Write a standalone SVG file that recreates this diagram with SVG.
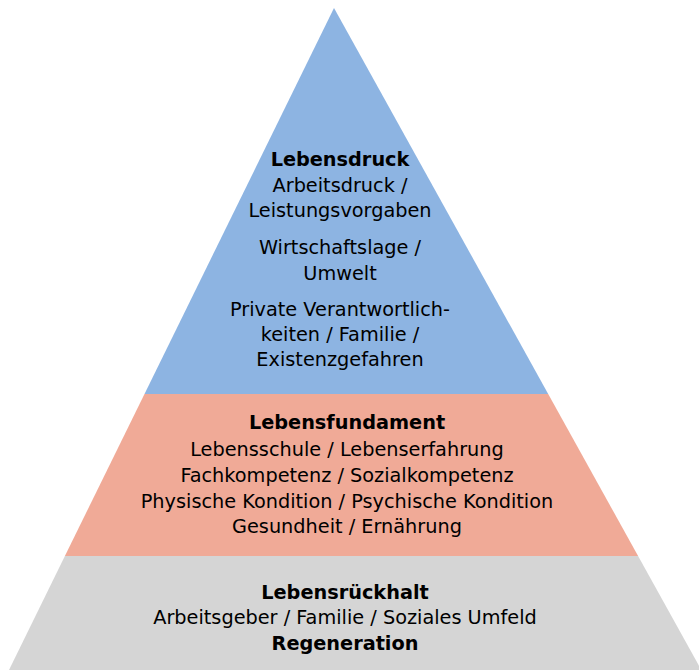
<svg xmlns="http://www.w3.org/2000/svg" width="699" height="670" viewBox="0 0 699 670">
  <style>
    text { font-family: "DejaVu Sans", Verdana, sans-serif; font-size: 19.3px; fill: #000; text-anchor: middle; }
    .b { font-weight: bold; }
  </style>
  <rect width="699" height="670" fill="#ffffff"/>
  <g id="lebensdruck">
    <polygon points="334,8 548.2,394 144.5,394" fill="#8DB4E2"/>
    <text class="b" x="340" y="166">Lebensdruck</text>
    <text x="340" y="192">Arbeitsdruck /</text>
    <text x="340" y="217">Leistungsvorgaben</text>
    <text x="340" y="254">Wirtschaftslage /</text>
    <text x="340" y="280">Umwelt</text>
    <text x="340" y="316">Private Verantwortlich-</text>
    <text x="340" y="341">keiten / Familie /</text>
    <text x="340" y="366">Existenzgefahren</text>
  </g>
  <g id="lebensfundament">
    <polygon points="144.5,394 548.2,394 638.1,556 64.9,556" fill="#F0AA97"/>
    <text class="b" x="347" y="429">Lebensfundament</text>
    <text x="347" y="456">Lebensschule / Lebenserfahrung</text>
    <text x="347" y="482">Fachkompetenz / Sozialkompetenz</text>
    <text x="347" y="508">Physische Kondition / Psychische Kondition</text>
    <text x="347" y="533">Gesundheit / Ernährung</text>
  </g>
  <g id="lebensrueckhalt">
    <polygon points="64.9,556 638.1,556 701.4,670 9,670" fill="#D5D5D5"/>
    <text class="b" x="345" y="599">Lebensrückhalt</text>
    <text x="345" y="624">Arbeitsgeber / Familie / Soziales Umfeld</text>
    <text class="b" x="345" y="650">Regeneration</text>
  </g>
</svg>
